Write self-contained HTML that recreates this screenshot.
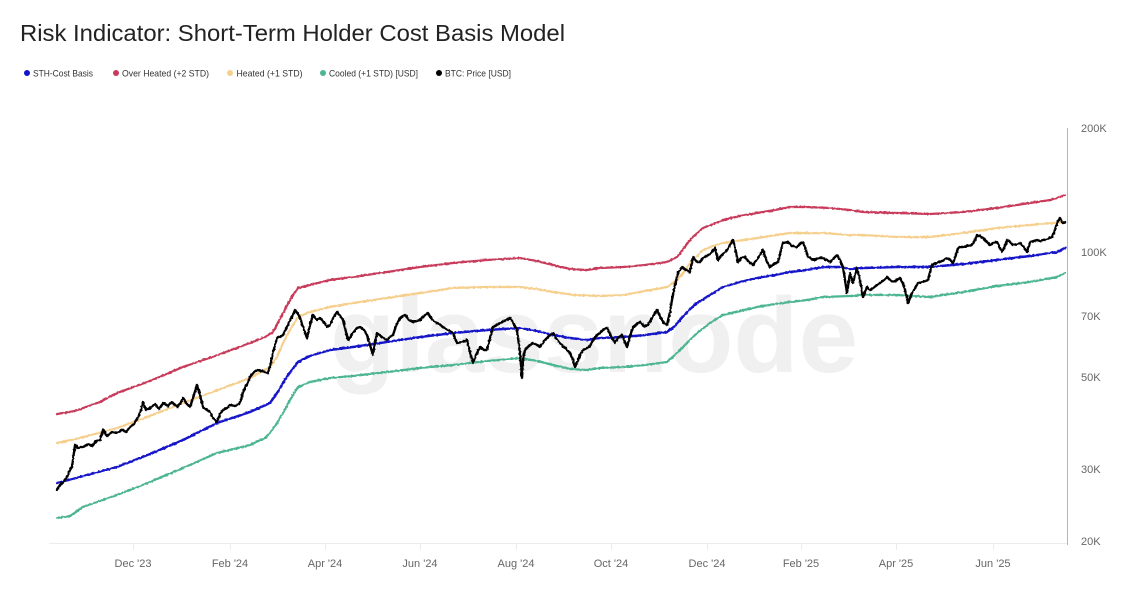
<!DOCTYPE html>
<html><head><meta charset="utf-8"><style>
html,body{margin:0;padding:0;background:#fff;}
svg{display:block;}
text{font-family:"Liberation Sans",sans-serif;}
</style></head><body>
<svg width="1134" height="614" viewBox="0 0 1134 614" xmlns="http://www.w3.org/2000/svg">
<defs>
<filter id="jit" x="-2%" y="-10%" width="104%" height="120%">
<feTurbulence type="fractalNoise" baseFrequency="0.45" numOctaves="1" seed="3" result="n"/>
<feDisplacementMap in="SourceGraphic" in2="n" scale="2.2" xChannelSelector="R" yChannelSelector="G"/>
</filter>
</defs>
<rect width="1134" height="614" fill="#fff"/>
<!-- title -->
<text x="20" y="41" font-size="23" fill="#222" textLength="545" lengthAdjust="spacingAndGlyphs">Risk Indicator: Short-Term Holder Cost Basis Model</text>
<!-- legend -->
<g font-size="9.5" fill="#333">
<circle cx="27" cy="73" r="3" fill="#1414c8"/><text x="33" y="76.5" textLength="60" lengthAdjust="spacingAndGlyphs">STH-Cost Basis</text>
<circle cx="116" cy="73" r="3" fill="#c83a5a"/><text x="122" y="76.5" textLength="87" lengthAdjust="spacingAndGlyphs">Over Heated (+2 STD)</text>
<circle cx="230" cy="73" r="3" fill="#f6cf8c"/><text x="236.5" y="76.5" textLength="66" lengthAdjust="spacingAndGlyphs">Heated (+1 STD)</text>
<circle cx="323" cy="73" r="3" fill="#4db594"/><text x="329" y="76.5" textLength="89" lengthAdjust="spacingAndGlyphs">Cooled (+1 STD) [USD]</text>
<circle cx="439" cy="73" r="3" fill="#000"/><text x="445" y="76.5" textLength="66" lengthAdjust="spacingAndGlyphs">BTC: Price [USD]</text>
</g>
<!-- watermark -->
<text x="330" y="372" font-size="107" font-weight="bold" fill="#f0f0f0" textLength="528" lengthAdjust="spacingAndGlyphs">glassnode</text>
<!-- axes -->
<line x1="49" y1="543.5" x2="1067" y2="543.5" stroke="#ececec" stroke-width="1"/>
<line x1="1067.5" y1="128" x2="1067.5" y2="545" stroke="#8cc8c0" stroke-width="1"/>
<g stroke="#ececec" stroke-width="1">
<line x1="133.5" y1="544" x2="133.5" y2="550"/><line x1="230.5" y1="544" x2="230.5" y2="550"/><line x1="325.5" y1="544" x2="325.5" y2="550"/><line x1="420.5" y1="544" x2="420.5" y2="550"/><line x1="516.5" y1="544" x2="516.5" y2="550"/><line x1="611.5" y1="544" x2="611.5" y2="550"/><line x1="707.5" y1="544" x2="707.5" y2="550"/><line x1="801.5" y1="544" x2="801.5" y2="550"/><line x1="896.5" y1="544" x2="896.5" y2="550"/><line x1="993.5" y1="544" x2="993.5" y2="550"/>
</g>
<g font-size="11" fill="#666" text-anchor="middle">
<text x="133" y="567">Dec '23</text><text x="230" y="567">Feb '24</text><text x="325" y="567">Apr '24</text><text x="420" y="567">Jun '24</text><text x="516" y="567">Aug '24</text><text x="611" y="567">Oct '24</text><text x="707" y="567">Dec '24</text><text x="801" y="567">Feb '25</text><text x="896" y="567">Apr '25</text><text x="993" y="567">Jun '25</text>
</g>
<g font-size="11" fill="#666">
<text x="1081" y="132">200K</text><text x="1081" y="256">100K</text><text x="1081" y="320">70K</text><text x="1081" y="381">50K</text><text x="1081" y="473">30K</text><text x="1081" y="545">20K</text>
</g>
<!-- series -->
<g fill="none" stroke-linejoin="round" stroke-linecap="round">
<g filter="url(#jit)">
<polyline stroke="#4db594" stroke-width="2.2" points="57,518 70,516 83,507 100,501 117,495 150,482 183,468 217,453 250,445 265,438 270,433 277,423 283,413 290,400 298,387 310,382 330,378 353,376 387,372 420,368 453,365 487,361 520,358 537,361 553,365 570,369 587,370 600,368 623,367 645,365 667,362 677,353 687,343 697,333 710,323 723,315 740,311 757,307 775,304 790,302 807,300 823,297 850,296 863,295 897,295 930,297 963,292 997,286 1030,282 1057,277 1065,273"/>
<polyline stroke="#f6cf8c" stroke-width="2.2" points="57,443 80,438 117,428 150,416 183,403 215,391 250,378 270,367 277,357 283,343 290,330 298,317 310,312 330,307 353,303 387,298 420,293 453,288 487,287 520,287 537,289 553,292 575,295 600,296 623,295 645,291 667,287 677,280 684,272 690,263 697,256 703,250 713,246 723,243 757,238 790,233 823,233 850,235 863,235 897,237 930,237 963,233 997,228 1030,225 1065,222"/>
<polyline stroke="#c83a5a" stroke-width="2.2" points="57,414 75,411 100,402 117,393 150,381 183,367 215,356 250,343 265,337 273,332 283,313 290,300 298,288 310,285 330,280 360,276 387,272 420,267 453,263 487,260 520,258 537,261 553,265 570,269 587,270 600,268 623,267 645,265 667,262 677,257 684,248 690,240 697,233 703,228 713,224 723,220 740,216 757,213 775,210 790,207 807,207 830,208 850,210 863,212 897,213 930,214 963,212 997,208 1030,203 1050,200 1057,198 1065,195"/>
<polyline stroke="#1414c8" stroke-width="2.4" points="57,483 80,477 117,467 150,454 183,440 217,423 250,412 270,403 277,393 283,383 290,372 298,362 310,356 330,350 353,347 387,342 420,337 453,333 487,330 520,328 537,331 553,335 570,338 587,340 600,338 623,337 645,335 667,332 675,326 680,320 688,311 697,303 710,295 723,287 740,282 757,278 775,275 790,272 807,270 823,267 840,267 850,269 863,268 897,267 930,267 963,264 997,260 1030,256 1050,253 1057,252 1065,248"/>
</g>
<polyline filter="url(#jit)" stroke="#000" stroke-width="2.4" points="57,490 60,485 63,482 67,477 70,470 72,467 75,445 78,448 83,447 88,444 92,446 96,441 100,440 103,430 107,436 112,432 117,433 122,430 126,432 130,427 134,424 138,417 141,410 143,402 146,410 150,408 155,404 159,409 163,403 168,406 172,402 177,407 180,404 183,398 187,404 190,407 193,398 197,385 200,395 203,407 207,410 210,412 213,418 217,422 220,414 223,410 227,408 230,405 235,406 240,403 243,392 247,384 250,377 254,372 257,370 262,371 268,373 270,366 272,357 275,345 277,338 280,337 283,335 287,327 290,320 293,315 295,310 298,314 300,318 303,327 307,338 310,325 313,315 317,320 320,318 324,322 327,327 330,325 333,318 337,312 340,316 343,320 346,332 348,340 351,336 353,333 357,328 360,327 364,330 367,335 370,345 373,355 375,342 377,333 382,337 387,340 390,337 393,335 396,326 400,318 403,316 405,315 409,320 413,322 417,321 420,320 424,316 428,313 431,318 435,322 439,324 443,327 448,330 453,333 455,338 457,343 462,342 467,340 470,352 473,363 476,355 480,347 484,350 487,350 490,338 493,327 497,325 502,322 506,320 510,318 514,324 517,330 519,345 521,365 522,378 523,360 525,350 529,346 533,343 537,345 540,347 545,340 550,335 553,333 556,338 560,343 565,348 570,353 573,360 575,367 578,360 580,355 583,350 587,348 590,346 593,340 597,335 600,333 603,330 607,328 611,336 615,343 618,338 622,335 625,342 627,347 630,336 633,327 637,324 640,322 644,326 648,325 652,318 657,310 660,316 662,320 665,324 667,325 670,312 672,300 675,285 678,273 682,267 686,270 690,272 693,257 697,262 700,262 703,258 705,257 710,254 715,248 718,260 722,255 727,250 730,245 733,240 736,252 738,262 741,258 745,257 749,262 753,265 758,258 763,250 766,260 770,267 774,264 778,262 781,250 783,243 788,242 792,246 797,247 800,244 803,242 806,250 808,257 812,259 815,260 819,258 823,258 827,260 830,262 834,258 837,255 840,260 843,267 845,280 847,293 850,273 853,283 857,268 860,280 863,297 867,287 870,290 873,288 877,285 880,283 884,280 887,277 890,280 893,282 897,280 900,278 903,284 905,290 907,298 908,303 910,298 912,293 915,288 918,283 923,282 928,280 930,272 932,265 936,263 940,262 944,260 947,258 950,260 953,263 956,255 958,248 960,247 963,247 967,246 972,245 975,240 977,235 980,236 983,238 987,242 990,245 993,243 997,242 1000,248 1002,252 1005,246 1007,240 1010,242 1013,245 1017,244 1020,243 1024,247 1027,252 1029,246 1030,242 1034,241 1037,240 1040,241 1043,240 1047,239 1052,237 1055,230 1057,223 1060,218 1062,222 1063,223 1065,222"/>
</g>
</svg>
</body></html>
